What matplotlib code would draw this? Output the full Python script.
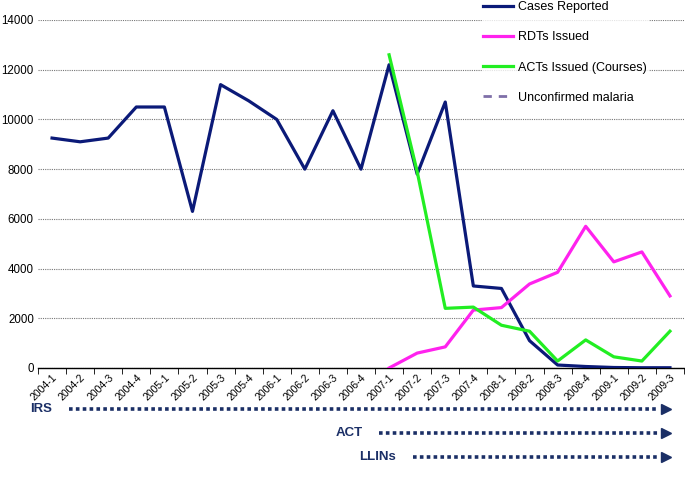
import numpy as np
import matplotlib.pyplot as plt
from matplotlib import transforms
from matplotlib.lines import Line2D

plt.rcParams['font.family'] = ['Liberation Sans', 'DejaVu Sans']

# quarters on the x axis
quarters = ['2004-1', '2004-2', '2004-3', '2004-4',
            '2005-1', '2005-2', '2005-3', '2005-4',
            '2006-1', '2006-2', '2006-3', '2006-4',
            '2007-1', '2007-2', '2007-3', '2007-4',
            '2008-1', '2008-2', '2008-3', '2008-4',
            '2009-1', '2009-2', '2009-3']

cases_reported = [9250, 9100, 9250, 10500, 10500, 6300, 11400, 10750, 10000, 8000,
                  10350, 8000, 12200, 7800, 10700, 3300, 3200, 1100, 120, 60,
                  20, 10, 10]

# RDTs and ACTs only start in 2007-1
rdts_issued = [np.nan] * 12 + [0, 600, 850, 2330, 2430, 3380, 3850, 5700, 4270, 4670, 2900]
acts_issued = [np.nan] * 12 + [12600, 7900, 2400, 2450, 1720, 1480, 280, 1130, 450, 280, 1480]

# interventions shown under the axis: (label, start quarter index)
interventions = ['IRS', 'ACT', 'LLINs']
start_idx = [0.6, 11.65, 12.85]

navy = '#0b1a78'
pink = '#ff22ee'
green = '#22ee22'
arrow_col = '#1b2f66'

fig = plt.figure(figsize=(6.85, 4.93), dpi=100)
ax = fig.add_axes([38 / 685, 125 / 493, 646 / 685, 348 / 493])

x = np.arange(len(quarters))
ax.plot(x, cases_reported, color=navy, lw=2.3, label='Cases Reported', zorder=3)
ax.plot(x, rdts_issued, color=pink, lw=2.3, label='RDTs Issued', zorder=3)
ax.plot(x, acts_issued, color=green, lw=2.3, label='ACTs Issued (Courses)', zorder=3)

ax.set_xlim(-0.5, len(quarters) - 0.5)
ax.set_ylim(0, 14000)
ax.set_yticks(np.arange(0, 14001, 2000))
ax.yaxis.grid(True, linestyle=(0, (1, 1)), color='#777777', lw=0.8)
ax.set_axisbelow(True)

for s in ['left', 'right', 'top']:
    ax.spines[s].set_visible(False)
ax.spines['bottom'].set_linewidth(1.0)

ax.set_xticks(x)
ax.set_xticklabels(quarters, rotation=45, ha='right', rotation_mode='anchor', fontsize=7.5)
ax.set_xticks(np.arange(-0.5, len(quarters), 1), minor=True)
ax.tick_params(axis='x', which='major', length=0, pad=3)
ax.tick_params(axis='x', which='minor', length=4, direction='out')
ax.tick_params(axis='y', length=0, labelsize=8.3, pad=3)

handles = [
    Line2D([], [], color=navy, lw=2.3),
    Line2D([], [], color=pink, lw=2.3),
    Line2D([], [], color=green, lw=2.3),
    Line2D([], [], color='#7f6fa8', lw=2.0, ls=(0, (3, 2.5))),
]
labels = ['Cases Reported', 'RDTs Issued', 'ACTs Issued (Courses)', 'Unconfirmed malaria']
leg = fig.legend(handles, labels, loc='upper left', bbox_to_anchor=(482 / 685, 1.0),
                 frameon=True, fontsize=9, handlelength=2.4, handletextpad=0.4,
                 labelspacing=1.45, borderaxespad=0, borderpad=0.1)
leg.get_frame().set_facecolor('white')
leg.get_frame().set_edgecolor('white')

# intervention arrows below the axis
trans = transforms.blended_transform_factory(ax.transData, fig.transFigure)
row_y = [1 - 409 / 493, 1 - 433 / 493, 1 - 457 / 493]
end_x = 21.85
for name, sx, yy in zip(interventions, start_idx, row_y):
    ax.plot([sx, end_x - 0.25], [yy, yy], transform=trans, color=arrow_col, lw=2.6,
            ls=(0, (1, 0.9)), clip_on=False)
    ax.plot([end_x], [yy], transform=trans, marker='>', ms=7, color=arrow_col,
            clip_on=False)
    ax.text(sx - 0.6, yy, name, transform=trans, ha='right', va='center',
            fontsize=9.5, fontweight='bold', color=arrow_col)

fig.savefig('out.png', dpi=100)
